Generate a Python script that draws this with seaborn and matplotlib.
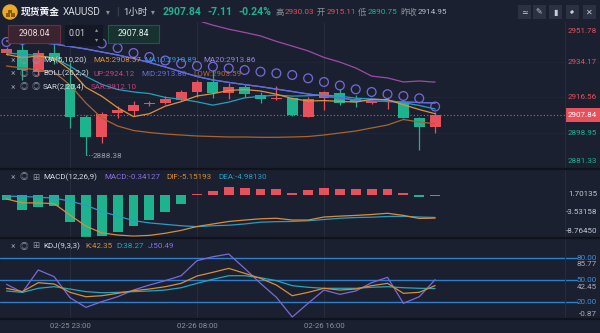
import numpy as np
import pandas as pd
import matplotlib
matplotlib.use("Agg")
import matplotlib.pyplot as plt
import matplotlib.transforms as mtransforms
from matplotlib.patches import Rectangle, Ellipse, FancyArrowPatch
from matplotlib.lines import Line2D
import seaborn as sns

# ---------------- data ----------------
time_labels = ["02-25 23:00", "02-26 08:00", "02-26 16:00"]
time_label_bars = [4, 12, 20]

opens = [2938.48, 2940.00, 2929.12, 2938.48, 2923.20, 2906.95, 2897.10, 2908.77, 2910.05, 2913.35,
         2913.70, 2915.11, 2919.41, 2924.34, 2918.62, 2921.88, 2917.79, 2915.67, 2916.16, 2907.10,
         2916.16, 2918.92, 2915.67, 2913.70, 2914.34, 2914.49, 2906.60, 2902.17]
highs = [2941.43, 2943.41, 2939.96, 2947.35, 2934.05, 2907.93, 2909.40, 2912.37, 2914.98, 2914.98,
         2917.29, 2920.25, 2925.18, 2930.03, 2923.70, 2922.71, 2919.41, 2922.22, 2916.95, 2916.95,
         2919.76, 2920.74, 2917.79, 2915.67, 2916.95, 2915.32, 2907.10, 2909.56]
lows = [2937.49, 2925.18, 2927.64, 2933.06, 2901.53, 2888.38, 2894.14, 2906.46, 2907.93, 2912.37,
        2913.35, 2914.98, 2916.95, 2916.16, 2915.82, 2916.95, 2913.70, 2915.32, 2907.44, 2906.80,
        2910.40, 2912.86, 2911.87, 2913.35, 2911.04, 2906.31, 2890.75, 2899.21]
closes = [2940.45, 2930.10, 2938.48, 2935.03, 2906.95, 2897.10, 2908.40, 2910.40, 2912.86, 2913.99,
          2915.82, 2919.41, 2924.34, 2918.62, 2921.88, 2918.13, 2915.82, 2916.46, 2907.93, 2915.82,
          2919.12, 2913.99, 2914.49, 2914.98, 2914.83, 2906.60, 2902.17, 2907.84]

ma5 = [2937.8, 2936.2, 2937.0, 2936.0, 2930.20, 2921.53, 2917.19, 2911.58, 2907.14, 2908.55,
       2912.29, 2914.50, 2917.28, 2918.44, 2920.01, 2920.48, 2919.76, 2918.18, 2916.04, 2914.83,
       2915.03, 2914.66, 2914.27, 2915.68, 2915.48, 2912.98, 2910.61, 2908.57]
ma10 = [2938.5, 2937.8, 2937.3, 2936.0, 2932.0, 2927.0, 2923.0, 2920.5, 2919.3, 2918.5,
        2916.6, 2915.7, 2914.43, 2912.79, 2914.28, 2916.39, 2917.13, 2917.73, 2917.24, 2917.42,
        2917.75, 2917.21, 2916.23, 2915.86, 2915.16, 2914.00, 2912.64, 2910.89]
boll_mid = [2944.39, 2943.90, 2943.65, 2942.91, 2941.68, 2940.45, 2938.97, 2937.49, 2935.77, 2933.80,
            2931.60, 2929.20, 2926.90, 2925.20, 2924.00, 2922.90, 2921.90, 2920.70, 2919.50, 2918.28,
            2917.29, 2916.31, 2915.32, 2914.83, 2914.58, 2914.34, 2914.09, 2913.86]
ma20 = boll_mid
boll_up = [2955.6, 2956.0, 2956.4, 2956.8, 2958.5, 2962.5, 2964.0, 2964.5, 2964.0, 2962.5,
           2961.0, 2958.5, 2954.6, 2952.2, 2950.2, 2948.6, 2946.9, 2944.2, 2941.9, 2939.5,
           2936.3, 2934.0, 2931.1, 2927.1, 2926.2, 2924.2, 2924.7, 2924.12]
boll_low = [2932.07, 2931.09, 2930.10, 2929.12, 2922.71, 2913.85, 2906.46, 2902.51, 2900.30, 2899.31,
            2898.57, 2898.08, 2897.59, 2897.34, 2897.10, 2897.10, 2896.95, 2896.95, 2897.10, 2897.34,
            2898.08, 2899.07, 2900.05, 2901.53, 2903.01, 2905.72, 2904.49, 2903.59]
sar = [2943.90, 2944.88, 2945.87, 2948.33, 2946.36, 2944.39, 2943.16, 2940.94, 2938.48, 2936.51,
       2934.78, 2933.30, 2932.07, 2931.73, 2930.94, 2930.10, 2929.27, 2928.48, 2927.64, 2926.01,
       2924.19, 2922.47, 2920.59, 2919.26, 2918.18, 2917.29, 2916.16, 2912.10]

macd_hist = [-1.60, -4.20, -3.36, -3.08, -7.76, -11.76, -11.68, -10.56, -8.68, -7.00,
             -4.96, -2.60, 0.15, 0.92, 2.16, 1.88, 1.68, 1.68, 0.48, 1.20,
             1.96, 1.68, 1.48, 1.68, 1.68, 0.56, -0.76, -0.34127]
dif = [0.20, -0.90, -0.90, -1.10, -4.30, -7.40, -9.30, -9.90, -10.20, -10.00,
       -9.40, -8.60, -7.50, -6.80, -6.10, -5.70, -5.35, -5.20, -5.70, -5.70,
       -4.85, -4.60, -4.40, -4.15, -3.80, -4.40, -5.25, -5.15193]
dea = [1.00, 0.90, 0.70, 0.45, -0.40, -1.55, -3.30, -4.60, -5.85, -6.50,
       -6.90, -7.30, -7.55, -7.30, -7.15, -6.80, -6.30, -6.15, -6.10, -5.90,
       -5.55, -5.20, -5.00, -4.90, -4.70, -4.65, -4.85, -4.98130]

k_vals = [38.6, 34.0, 46.3, 44.5, 33.1, 27.0, 28.4, 31.7, 35.3, 37.6, 40.8, 45.4, 55.5, 60.6,
          66.0, 59.2, 52.3, 43.1, 28.4, 33.0, 38.6, 36.2, 37.6, 42.2, 45.4, 31.7, 33.1, 42.35]
d_vals = [34.9, 33.0, 38.6, 40.8, 37.6, 34.0, 32.5, 33.0, 34.0, 34.9, 36.2, 39.4, 45.4, 51.0,
          55.9, 55.9, 53.2, 49.1, 42.2, 40.0, 38.6, 38.6, 38.6, 40.0, 40.8, 39.4, 38.6, 38.27]
j_vals = [44.1, 33.0, 63.8, 54.6, 25.7, 12.4, 20.2, 27.0, 36.2, 43.1, 49.1, 55.9, 76.6, 82.0,
          85.77, 66.0, 45.4, 26.2, -0.87, 18.0, 36.2, 30.3, 34.9, 46.3, 53.7, 18.0, 27.0, 50.49]

price_ticks = [2951.78, 2934.17, 2916.56, 2898.95, 2881.33]
macd_ticks = [1.70135, -3.53158, -8.76450]
kdj_ticks = [85.77, 42.45, -0.87]
kdj_levels = [80.00, 50.00, 20.00]
last_price = 2907.84
low_mark = 2888.38
overlay_values = ["2908.04", "0.01", "2907.84"]

header_change = "-7.11"
header_pct = "-0.24%"
header_high, header_open, header_low, header_prev = "2930.03", "2915.11", "2890.75", "2914.95"

# ---------------- style ----------------
sns.set_theme(style="dark")
plt.rcParams["font.family"] = ["Roboto", "Noto Sans CJK SC", "DejaVu Sans"]

BG = "#1b2030"
GRID = "#262c3c"
RED = "#e8505b"
GREEN = "#1db38e"
WHITE = "#d6d9e0"
GREY = "#8c919c"
SEP = "#10131b"

W, H = 600, 333
fig = plt.figure(figsize=(6.0, 3.33), dpi=100)
fig.patch.set_facecolor(BG)

def fy(py):
    return 1 - py / H

def panel(top, bottom):
    a = fig.add_axes([0, fy(bottom), 1, (bottom - top) / H])
    a.set_axis_off()
    return a

bars = np.arange(len(closes))
XLIM = (-6.5 / 15.875, (600 - 6.5) / 15.875)

ax_main = panel(22, 169)
ax_macd = panel(169, 237.5)
ax_kdj = panel(237.5, 319)

df = pd.DataFrame({"bar": bars, "open": opens, "high": highs, "low": lows, "close": closes,
                   "ma5": ma5, "ma10": ma10, "ma20": ma20, "up": boll_up, "mid": boll_mid,
                   "lowb": boll_low, "sar": sar, "hist": macd_hist, "dif": dif, "dea": dea,
                   "k": k_vals, "d": d_vals, "j": j_vals})

def rlabel(ax, val, text, color, dy=0.0):
    tr = mtransforms.blended_transform_factory(ax.transAxes, ax.transData)
    tr = mtransforms.offset_copy(tr, fig=fig, x=0, y=dy, units="dots")
    ax.text(597 / 600, val, text, color=color, fontsize=5.8, ha="right", va="center", transform=tr, zorder=10)

# ---------------- main panel ----------------
ax_main.set_xlim(*XLIM)
ax_main.set_ylim(2881.33, 2953.75)
for v in price_ticks[1:4]:
    ax_main.axhline(v, color="#222737", lw=0.6, zorder=0)
for b in time_label_bars:
    ax_main.axvline(b, color=GRID, lw=0.8, zorder=0)

o = df["open"].to_numpy(); c = df["close"].to_numpy()
cols = np.where(c >= o, RED, GREEN)
ax_main.vlines(bars, df["low"], df["high"], colors=cols, lw=0.9, zorder=3)
body = np.maximum(np.abs(c - o), 0.6)
bot = (o + c) / 2 - body / 2
ax_main.bar(bars, body, bottom=bot, width=0.68, color=cols, lw=0, zorder=4)

for col, colr in [("lowb", "#a8642e"), ("up", "#a04aa8"), ("ma20", "#7a70e0"), ("mid", "#5b6be0"),
                  ("ma10", "#1fa2bf"), ("ma5", "#e0913b")]:
    sns.lineplot(data=df, x="bar", y=col, ax=ax_main, color=colr, lw=0.9, zorder=5)
ax_main.scatter(bars, df["sar"], s=40, facecolors="none", edgecolors="#7868d8", linewidths=0.9, zorder=6)

ax_main.axhline(last_price, xmin=0, xmax=565 / 600, color=RED, lw=0.8, ls=(0, (1, 2)), zorder=2)
trb = mtransforms.blended_transform_factory(ax_main.transAxes, ax_main.transData)
ax_main.add_patch(Rectangle((565 / 600, last_price - 3.5), 35 / 600, 7.0, transform=trb,
                            color=RED, lw=0, zorder=9))
ax_main.text(582.5 / 600, last_price, f"{last_price:.2f}", color="white", fontsize=5.8,
             ha="center", va="center", transform=trb, zorder=10)
tick_offsets = [-4.7, 0, 0, 0, 8]
for v, dy in zip(price_ticks, tick_offsets):
    rlabel(ax_main, v, f"{v:.2f}", RED if v > last_price else GREEN, dy)

# low marker
lo_i = int(np.argmin(df["low"].to_numpy()[:20]))
ax_main.plot([lo_i, lo_i + 0.42], [low_mark, low_mark], ls=":", lw=0.7, color=GREY, zorder=6)
trl = mtransforms.offset_copy(ax_main.transData, fig=fig, y=-1.5, units="dots")
ax_main.text(lo_i + 0.45, low_mark, f"{low_mark:.2f}", color="#9aa0ab", fontsize=5.8,
             va="center", ha="left", transform=trl, zorder=6)

# ---------------- MACD panel ----------------
ax_line = ax_macd.twinx()
ax_line.set_axis_off()
ax_macd.set_xlim(*XLIM); ax_line.set_xlim(*XLIM)
ax_macd.set_ylim(-11.99, 7.20)
ax_line.set_ylim(-10.59, 8.60)
for b in time_label_bars:
    ax_macd.axvline(b, color=GRID, lw=0.8, zorder=0)
hcols = np.where(df["hist"] >= 0, RED, GREEN)
ax_macd.bar(bars, df["hist"], width=0.62, color=hcols, lw=0, zorder=3)
sns.lineplot(data=df, x="bar", y="dea", ax=ax_line, color="#2a9cc0", lw=0.9)
sns.lineplot(data=df, x="bar", y="dif", ax=ax_line, color="#d98d38", lw=0.9)
for v in macd_ticks:
    rlabel(ax_line, v, f"{v:.5f}", "#c4c8d0")

# ---------------- KDJ panel ----------------
ax_kdj.set_xlim(*XLIM)
ax_kdj.set_ylim(-3.62, 108.46)
for b in time_label_bars:
    ax_kdj.axvline(b, color=GRID, lw=0.8, zorder=0)
for v in kdj_levels:
    ax_kdj.axhline(v, xmin=0, xmax=577 / 600, color="#2f7fd0", lw=1.0, zorder=1)
sns.lineplot(data=df, x="bar", y="j", ax=ax_kdj, color="#7d68d8", lw=0.9, zorder=3)
sns.lineplot(data=df, x="bar", y="d", ax=ax_kdj, color="#20a8c0", lw=0.9, zorder=4)
sns.lineplot(data=df, x="bar", y="k", ax=ax_kdj, color="#d98d38", lw=0.9, zorder=5)
for v, dy in zip(kdj_ticks, [-10, -1.7, 3]):
    rlabel(ax_kdj, v, f"{v:.2f}", "#a9adb6", dy)
for v in kdj_levels:
    rlabel(ax_kdj, v, f"{v:.2f}", "#3a8fe0")

trt = mtransforms.blended_transform_factory(ax_kdj.transData, fig.transFigure)
for b, lab in zip(time_label_bars, time_labels):
    ax_kdj.text(b, fy(325.5), lab, color=GREY, fontsize=5.6, ha="center", va="center", transform=trt)

# vertical separator near the price scale and panel separators
fig.add_artist(Line2D([565 / 600] * 2, [fy(319), fy(22)], color=GRID, lw=0.8))
for yy in (169, 237.5, 319):
    fig.add_artist(Line2D([0, 1], [fy(yy)] * 2, color=SEP, lw=1.6))

# ---------------- texts: header ----------------
def ftext(px, py, s, color, size, ha="left", weight="normal", family=None):
    kw = {} if family is None else {"family": family}
    fig.text(px / W, fy(py), s, color=color, fontsize=size, ha=ha, va="center", fontweight=weight, **kw)

fig.add_artist(Ellipse((10 / W, fy(12)), 14 / W, 14 / H, transform=fig.transFigure, color="#e9a92a"))
for (x0, y0) in [(6, 13.5), (10.5, 13.5), (8.2, 9.8)]:
    fig.add_artist(Rectangle((x0 / W, fy(y0 + 3)), 4 / W, 3 / H, transform=fig.transFigure,
                             color="#8a5a10", lw=0))
ftext(21, 12, "现货黄金", "#eef0f4", 7.0, weight="bold")
ftext(63, 12, "XAUUSD", WHITE, 7.2)
ftext(106, 12, "▾", GREY, 5.5)
ftext(116, 12, "|", "#4a5060", 7)
ftext(123, 12, "1小时", WHITE, 6.8)
ftext(151, 12, "▾", GREY, 5.5)
ftext(163, 12, f"{last_price:.2f}", GREEN, 7.6, weight="bold")
ftext(207, 12, header_change, GREEN, 7.6, weight="bold")
ftext(238, 12, header_pct, GREEN, 7.6, weight="bold")
ftext(276, 12, "高", GREY, 6.0)
ftext(285, 12, header_high, RED, 5.9)
ftext(317, 12, "开", GREY, 6.0)
ftext(327, 12, header_open, RED, 5.9)
ftext(358, 12, "低", GREY, 6.0)
ftext(368, 12, header_low, GREEN, 5.9)
ftext(400, 12, "昨收", GREY, 6.0)
ftext(418, 12, header_prev, "#b9bdc6", 5.9)

ICON_FAMILY = ["DejaVu Sans", "Noto Sans CJK SC"]
for cx, g in zip([524, 539, 555, 572, 589], ["≃", "✎", "▮", None, "✕"]):
    fig.add_artist(Rectangle(((cx - 6.5) / W, fy(18.5)), 13 / W, 13 / H, transform=fig.transFigure,
                             color="#2b3142", lw=0))
    if g is None:
        # expand (two-headed diagonal arrow) symbol: no installed font has it, drawn as a shape
        fig.add_artist(FancyArrowPatch(((cx - 3.5) / W, fy(15.5)), ((cx + 3.5) / W, fy(8.5)),
                                       transform=fig.transFigure, arrowstyle="<|-|>",
                                       mutation_scale=3.5, color="#c8ccd6", lw=0.8))
    else:
        ftext(cx, 12, g, "#c8ccd6", 5.8, ha="center", family=ICON_FAMILY)

# overlay widget boxes
fig.add_artist(Rectangle((8 / W, fy(43)), 52 / W, 18 / H, transform=fig.transFigure,
                         facecolor="#3a2430", edgecolor="#6a3040", lw=0.8))
fig.add_artist(Rectangle((65 / W, fy(45)), 37 / W, 20 / H, transform=fig.transFigure,
                         facecolor="#141824", edgecolor="#141824", lw=0.8))
fig.add_artist(Rectangle((108 / W, fy(43)), 51 / W, 18 / H, transform=fig.transFigure,
                         facecolor="#18332f", edgecolor="#255449", lw=0.8))
ftext(34, 34, overlay_values[0], "#e6dada", 6.3, ha="center")
ftext(77, 34, overlay_values[1], "#d0d3da", 6.3, ha="center")
ftext(97, 30, "▴", GREY, 4.5, ha="center")
ftext(97, 40, "▾", GREY, 4.5, ha="center")
ftext(133.5, 34, overlay_values[2], "#e6ecea", 6.3, ha="center")

# ---------------- indicator legends ----------------
def icons(py, glyphs):
    for px, g in zip([13, 24, 36], glyphs):
        ftext(px, py, g, GREY, 6.2, ha="center")

LS = 5.8
icons(60, ["×", "◎", "◎"])
ftext(43, 60, "MA(5,10,20)", WHITE, LS)
ftext(93, 60, f"MA5:{ma5[-1]:.2f}", "#e0913b", LS)
ftext(144, 60, f"MA10:{ma10[-1]:.2f}", "#3a8fd8", LS)
ftext(203, 60, f"MA20:{ma20[-1]:.2f}", "#9a84e6", LS)

icons(73.5, ["×", "◎", "◎"])
ftext(43, 73.5, "BOLL(20,2,2)", WHITE, LS)
ftext(94, 73.5, f"UP:{boll_up[-1]:.2f}", "#cf3f8a", LS)
ftext(141, 73.5, f"MID:{boll_mid[-1]:.2f}", "#6a6be0", LS)
ftext(193, 73.5, f"LOW:{boll_low[-1]:.2f}", "#b8692c", LS)

icons(87, ["×", "◎", "◎"])
ftext(43, 87, "SAR(2,20,4)", WHITE, LS)
ftext(91, 87, f"SAR:{sar[-1]:.2f}", "#c43d7f", LS)

icons(177, ["×", "◎", "⊞"])
ftext(43, 177, "MACD(12,26,9)", WHITE, LS)
ftext(104, 177, f"MACD:{macd_hist[-1]:.5f}", "#8a6fe0", LS)
ftext(166, 177, f"DIF:{dif[-1]:.5f}", "#d98d38", LS)
ftext(218, 177, f"DEA:{dea[-1]:.5f}", "#2a9cc0", LS)

icons(246, ["×", "◎", "⊞"])
ftext(43, 246, "KDJ(9,3,3)", WHITE, LS)
ftext(85, 246, f"K:{k_vals[-1]:.2f}", "#d98d38", LS)
ftext(116, 246, f"D:{d_vals[-1]:.2f}", "#20a8c0", LS)
ftext(148, 246, f"J:{j_vals[-1]:.2f}", "#8a6fe0", LS)

fig.savefig("out.png", dpi=100, facecolor=BG)
